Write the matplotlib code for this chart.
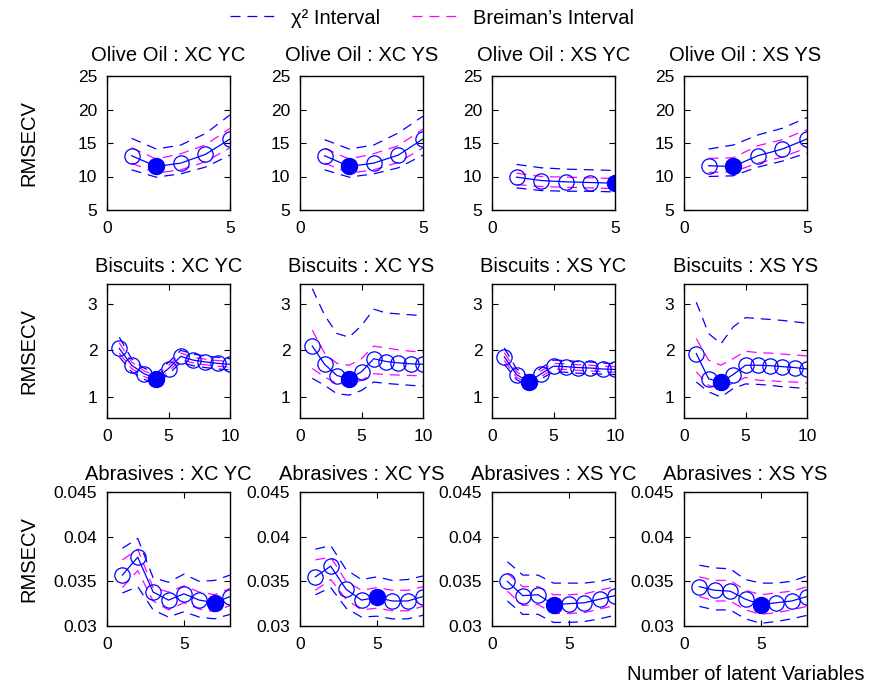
import matplotlib
matplotlib.use("Agg")
import matplotlib.pyplot as plt
from matplotlib.lines import Line2D

plt.rcParams['font.family'] = ['Liberation Sans', 'DejaVu Sans']

# Panel titles per row (dataset) and column (preprocessing of X / Y)
datasets = ["Olive Oil", "Biscuits", "Abrasives"]
variants = ["XC YC", "XC YS", "XS YC", "XS YS"]

# Number of latent variables per dataset
olive_lv = [1, 2, 3, 4, 5]
biscuits_lv = [1, 2, 3, 4, 5, 6, 7, 8, 9, 10]
abrasives_lv = [1, 2, 3, 4, 5, 6, 7, 8]

# Selected number of latent variables (filled marker), per panel
olive_opt = [2, 2, 5, 2]
biscuits_opt = [4, 4, 3, 3]
abrasives_opt = [7, 5, 4, 5]

# ---- Olive Oil ----
olive_rmsecv = [
    [13.1, 11.5, 12.0, 13.3, 15.6],
    [13.1, 11.5, 12.0, 13.2, 15.6],
    [9.9, 9.4, 9.2, 9.1, 9.0],
    [11.6, 11.5, 13.1, 14.1, 15.6],
]
olive_chi2_hi = [
    [15.7, 14.1, 14.7, 16.4, 19.2],
    [15.5, 14.1, 14.7, 16.5, 19.0],
    [11.8, 11.3, 11.1, 11.0, 10.9],
    [14.1, 14.7, 16.2, 17.2, 18.8],
]
olive_chi2_lo = [
    [11.0, 9.9, 10.4, 11.4, 13.2],
    [11.0, 9.9, 10.4, 11.3, 13.2],
    [8.3, 7.9, 7.8, 7.8, 7.7],
    [10.0, 10.1, 11.4, 12.3, 13.5],
]
olive_breiman_hi = [
    [14.3, 12.6, 13.4, 14.7, 17.2],
    [14.2, 12.6, 13.4, 14.6, 17.1],
    [10.5, 10.0, 9.9, 9.8, 9.7],
    [12.7, 12.8, 14.6, 15.5, 17.0],
]
olive_breiman_lo = [
    [12.0, 10.5, 11.0, 12.2, 14.3],
    [12.0, 10.5, 11.0, 12.1, 14.3],
    [8.8, 8.5, 8.4, 8.3, 8.2],
    [10.6, 10.7, 12.0, 12.9, 14.3],
]

# ---- Biscuits ----
biscuits_rmsecv = [
    [2.04, 1.68, 1.50, 1.39, 1.61, 1.87, 1.79, 1.75, 1.72, 1.70],
    [2.09, 1.70, 1.46, 1.39, 1.54, 1.82, 1.76, 1.73, 1.71, 1.70],
    [1.86, 1.48, 1.32, 1.50, 1.66, 1.65, 1.63, 1.62, 1.60, 1.59],
    [1.93, 1.39, 1.32, 1.48, 1.68, 1.68, 1.67, 1.65, 1.63, 1.60],
]
biscuits_chi2_hi = [
    [2.28, 1.82, 1.62, 1.50, 1.74, 2.00, 1.92, 1.88, 1.85, 1.82],
    [3.32, 2.75, 2.36, 2.28, 2.53, 2.88, 2.80, 2.78, 2.76, 2.74],
    [2.05, 1.60, 1.43, 1.62, 1.79, 1.78, 1.76, 1.75, 1.73, 1.71],
    [3.03, 2.36, 2.14, 2.50, 2.70, 2.68, 2.66, 2.64, 2.61, 2.58],
]
biscuits_chi2_lo = [
    [1.86, 1.54, 1.38, 1.28, 1.49, 1.74, 1.67, 1.63, 1.60, 1.58],
    [1.40, 1.25, 1.07, 1.04, 1.14, 1.32, 1.29, 1.27, 1.25, 1.23],
    [1.70, 1.37, 1.22, 1.39, 1.54, 1.53, 1.51, 1.50, 1.49, 1.48],
    [1.32, 1.11, 1.00, 1.18, 1.28, 1.27, 1.25, 1.22, 1.20, 1.18],
]
biscuits_breiman_hi = [
    [2.16, 1.75, 1.56, 1.45, 1.67, 1.94, 1.85, 1.81, 1.78, 1.76],
    [2.43, 1.94, 1.72, 1.68, 1.82, 2.09, 2.05, 2.01, 1.98, 1.96],
    [1.95, 1.54, 1.38, 1.56, 1.72, 1.71, 1.69, 1.68, 1.66, 1.65],
    [2.25, 1.79, 1.68, 1.82, 1.98, 1.95, 1.94, 1.92, 1.90, 1.88],
]
biscuits_breiman_lo = [
    [1.94, 1.61, 1.44, 1.33, 1.55, 1.80, 1.73, 1.69, 1.66, 1.64],
    [1.61, 1.43, 1.29, 1.26, 1.36, 1.50, 1.48, 1.47, 1.46, 1.45],
    [1.78, 1.42, 1.27, 1.44, 1.60, 1.59, 1.57, 1.56, 1.54, 1.53],
    [1.54, 1.25, 1.18, 1.30, 1.42, 1.36, 1.35, 1.33, 1.32, 1.30],
]

# ---- Abrasives ----
abrasives_rmsecv = [
    [0.0357, 0.0377, 0.0338, 0.0329, 0.0336, 0.0329, 0.0326, 0.0333],
    [0.0355, 0.0367, 0.0341, 0.0329, 0.0332, 0.0328, 0.0328, 0.0333],
    [0.0350, 0.0334, 0.0335, 0.0324, 0.0325, 0.0326, 0.0330, 0.0334],
    [0.0344, 0.0340, 0.0339, 0.0330, 0.0324, 0.0326, 0.0328, 0.0333],
]
abrasives_chi2_hi = [
    [0.0387, 0.0398, 0.0354, 0.0349, 0.0358, 0.0350, 0.0351, 0.0357],
    [0.0386, 0.0390, 0.0363, 0.0352, 0.0355, 0.0351, 0.0352, 0.0356],
    [0.0372, 0.0357, 0.0357, 0.0348, 0.0348, 0.0348, 0.0350, 0.0354],
    [0.0368, 0.0365, 0.0364, 0.0352, 0.0348, 0.0348, 0.0350, 0.0356],
]
abrasives_chi2_lo = [
    [0.0337, 0.0344, 0.0318, 0.0310, 0.0316, 0.0310, 0.0308, 0.0313],
    [0.0335, 0.0343, 0.0320, 0.0310, 0.0311, 0.0308, 0.0308, 0.0312],
    [0.0328, 0.0313, 0.0313, 0.0304, 0.0304, 0.0305, 0.0308, 0.0312],
    [0.0322, 0.0318, 0.0318, 0.0308, 0.0303, 0.0305, 0.0308, 0.0312],
]
abrasives_breiman_hi = [
    [0.0374, 0.0386, 0.0343, 0.0338, 0.0345, 0.0338, 0.0335, 0.0342],
    [0.0374, 0.0377, 0.0350, 0.0340, 0.0343, 0.0340, 0.0340, 0.0344],
    [0.0359, 0.0344, 0.0344, 0.0335, 0.0335, 0.0336, 0.0340, 0.0344],
    [0.0355, 0.0351, 0.0351, 0.0340, 0.0335, 0.0337, 0.0339, 0.0344],
]
abrasives_breiman_lo = [
    [0.0343, 0.0362, 0.0328, 0.0318, 0.0326, 0.0319, 0.0316, 0.0323],
    [0.0340, 0.0352, 0.0330, 0.0318, 0.0320, 0.0317, 0.0317, 0.0322],
    [0.0339, 0.0323, 0.0324, 0.0314, 0.0314, 0.0315, 0.0319, 0.0323],
    [0.0333, 0.0328, 0.0328, 0.0318, 0.0313, 0.0315, 0.0318, 0.0322],
]

# Axis settings per row
row_xlim = [(0, 5), (0, 10), (0, 8)]
row_xticks = [[0, 5], [0, 5, 10], [0, 5]]
row_ylim = [(5, 25), (0.55, 3.42), (0.03, 0.045)]
row_yticks = [[5, 10, 15, 20, 25], [1, 2, 3], [0.03, 0.035, 0.04, 0.045]]
row_yticklabels = [["5", "10", "15", "20", "25"], ["1", "2", "3"],
                   ["0.03", "0.035", "0.04", "0.045"]]

rows = [
    (olive_lv, olive_rmsecv, olive_chi2_lo, olive_chi2_hi,
     olive_breiman_lo, olive_breiman_hi, olive_opt),
    (biscuits_lv, biscuits_rmsecv, biscuits_chi2_lo, biscuits_chi2_hi,
     biscuits_breiman_lo, biscuits_breiman_hi, biscuits_opt),
    (abrasives_lv, abrasives_rmsecv, abrasives_chi2_lo, abrasives_chi2_hi,
     abrasives_breiman_lo, abrasives_breiman_hi, abrasives_opt),
]

W, H = 872, 686
fig = plt.figure(figsize=(W / 100, H / 100), dpi=100)

col_left = [107, 300, 492, 684]
row_top = [76, 284, 492]
ax_w, ax_h = 123, 134

BLUE = (0, 0, 1)
MAGENTA = (1, 0, 1)
DASH = (0, (8, 5.5))
TICK_FS = 12.5
LABEL_FS = 14.5

for r, (lv, rm, clo, chi, blo, bhi, opt) in enumerate(rows):
    for c in range(4):
        ax = fig.add_axes([col_left[c] / W, 1 - (row_top[r] + ax_h) / H,
                           ax_w / W, ax_h / H])
        ax.plot(lv, chi[c], color=BLUE, lw=0.9, linestyle=DASH)
        ax.plot(lv, clo[c], color=BLUE, lw=0.9, linestyle=DASH)
        ax.plot(lv, bhi[c], color=MAGENTA, lw=0.9, linestyle=DASH)
        ax.plot(lv, blo[c], color=MAGENTA, lw=0.9, linestyle=DASH)
        ax.plot(lv, rm[c], color=BLUE, lw=0.9, marker='o', markersize=11,
                markerfacecolor='none', markeredgecolor=BLUE,
                markeredgewidth=0.9)
        k = lv.index(opt[c])
        ax.plot([lv[k]], [rm[c][k]], linestyle='none', marker='o',
                markersize=11.5, color=BLUE)
        ax.set_xlim(*row_xlim[r])
        ax.set_ylim(*row_ylim[r])
        ax.set_xticks(row_xticks[r])
        ax.set_yticks(row_yticks[r])
        ax.set_yticklabels(row_yticklabels[r])
        ax.tick_params(direction='in', length=4, width=0.8,
                       labelsize=TICK_FS, top=True, right=True)
        ax.tick_params(axis='x', pad=8)
        ax.tick_params(axis='y', pad=7)
        for s in ax.spines.values():
            s.set_linewidth(1.0)
        ax.set_title(f"{datasets[r]} : {variants[c]}", fontsize=LABEL_FS,
                     pad=11 if r == 0 else 9)
        if c == 0:
            ax.set_ylabel("RMSECV", fontsize=LABEL_FS)
            ax.yaxis.set_label_coords(-0.56, 0.5)
        if r == 2 and c == 3:
            ax.set_xlabel("Number of latent Variables", fontsize=LABEL_FS,
                          labelpad=9)

handles = [
    Line2D([], [], color=BLUE, lw=0.9, linestyle=DASH),
    Line2D([], [], color=MAGENTA, lw=0.9, linestyle=DASH),
]
fig.legend(handles, ["χ² Interval", "Breiman’s Interval"], loc='center',
           bbox_to_anchor=(432 / W, 1 - 18 / H), ncol=2, frameon=False,
           fontsize=LABEL_FS, handlelength=2.3, handletextpad=0.7,
           columnspacing=1.6)

fig.savefig("out.png", dpi=100)
